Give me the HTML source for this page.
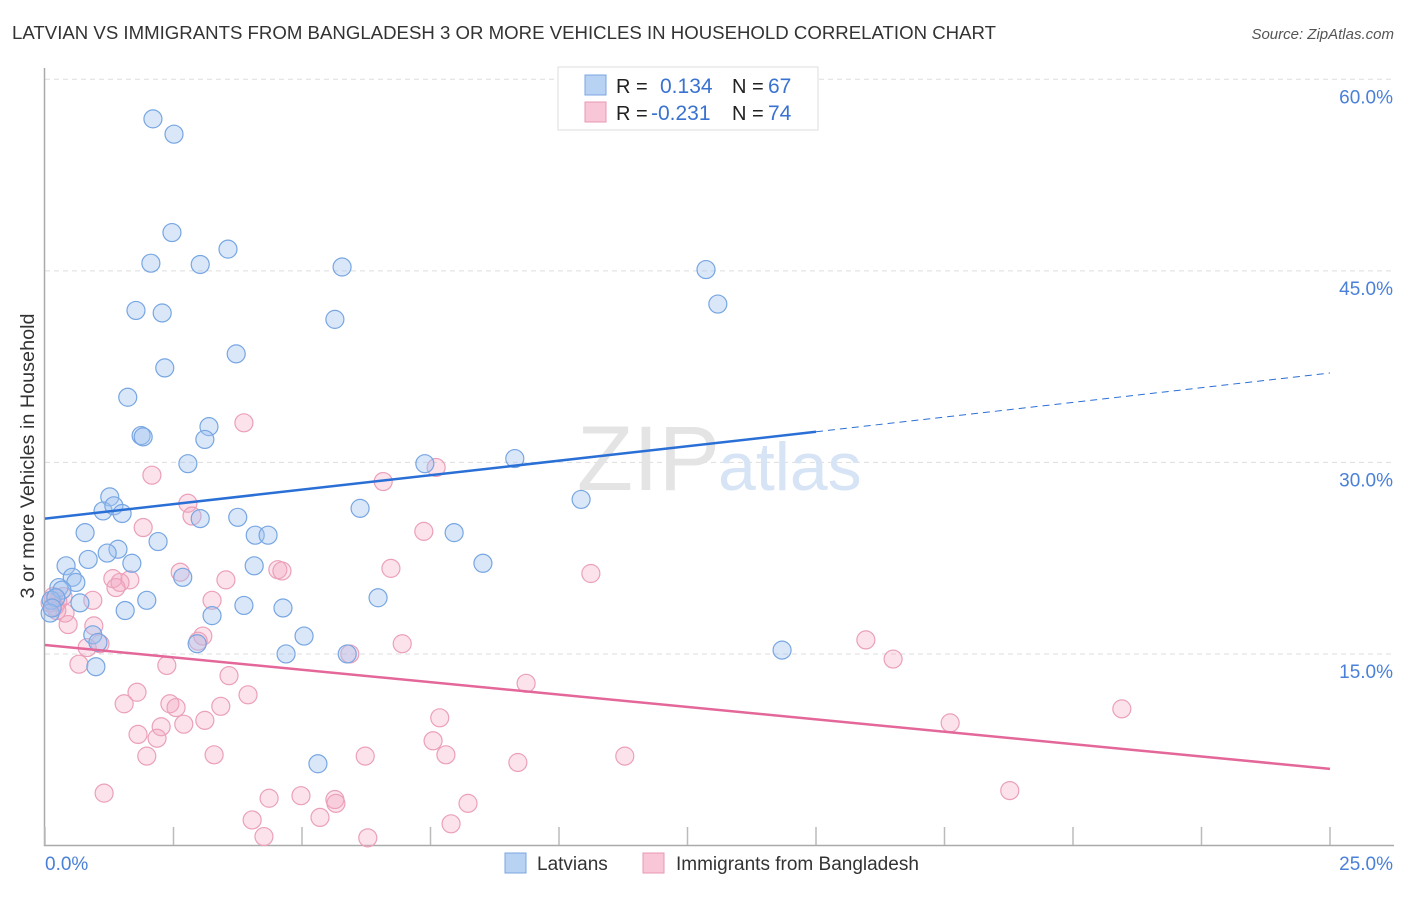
<!DOCTYPE html>
<html><head><meta charset="utf-8"><style>
body{margin:0;background:#fff;font-family:"Liberation Sans",sans-serif;}
svg text{font-family:"Liberation Sans",sans-serif;}
</style></head><body>
<svg id="c" width="1406" height="892">
<text x="12" y="39" font-size="18.5" fill="#333" textLength="984" lengthAdjust="spacingAndGlyphs">LATVIAN VS IMMIGRANTS FROM BANGLADESH 3 OR MORE VEHICLES IN HOUSEHOLD CORRELATION CHART</text>
<text x="1394" y="39" font-size="15" fill="#555" text-anchor="end" font-style="italic">Source: ZipAtlas.com</text>
<text transform="translate(34,456) rotate(-90)" font-size="19" fill="#333" text-anchor="middle" textLength="285" lengthAdjust="spacingAndGlyphs">3 or more Vehicles in Household</text>
<g id="grid"></g>
<text x="720" y="490" font-size="92" fill="#e4e4e4" text-anchor="end" font-family="Liberation Serif">ZIP</text>
<text x="718" y="490" font-size="68" fill="#d6e4f5">atlas</text>
<g id="pts"></g>
<g id="lines"></g>
<g>
<rect x="558" y="67" width="260" height="63" fill="#fff" stroke="#ddd"/>
<rect x="585" y="75" width="21" height="20" fill="#b8d2f4" stroke="#7aa6e0"/>
<rect x="585" y="102" width="21" height="20" fill="#f8c6d6" stroke="#ea97b3"/>
<text x="616" y="93" font-size="20" fill="#222">R =</text><text x="660" y="93" font-size="21" fill="#3a72d0">0.134</text>
<text x="732" y="93" font-size="20" fill="#222">N =</text><text x="768" y="93" font-size="21" fill="#3a72d0">67</text>
<text x="616" y="120" font-size="20" fill="#222">R =</text><text x="651" y="120" font-size="21" fill="#3a72d0">-0.231</text>
<text x="732" y="120" font-size="20" fill="#222">N =</text><text x="768" y="120" font-size="21" fill="#3a72d0">74</text>
</g>
<g>
<rect x="505" y="853" width="21" height="20" fill="#b8d2f4" stroke="#7aa6e0"/>
<text x="537" y="870" font-size="19" fill="#333">Latvians</text>
<rect x="643" y="853" width="21" height="20" fill="#f8c6d6" stroke="#ea97b3"/>
<text x="676" y="870" font-size="19" fill="#333">Immigrants from Bangladesh</text>
</g>
</svg>
<script>
const blueX=[2.10,2.51,2.47,3.56,2.06,3.02,5.78,12.86,13.09,1.77,2.28,5.64,3.72,2.33,1.61,3.19,1.87,1.91,3.11,2.78,7.39,9.14,1.26,10.43,1.13,1.34,1.50,6.13,3.02,3.75,0.78,4.09,4.34,7.96,2.20,1.42,1.21,0.84,1.69,0.41,8.52,4.07,0.53,2.68,0.60,0.27,0.33,0.12,0.21,1.98,6.48,3.87,0.68,4.63,1.56,3.25,5.04,0.93,1.03,2.96,4.69,5.88,14.34,0.99,5.31,0.10,0.14];
const blueY=[56.9,55.7,48.0,46.7,45.6,45.5,45.3,45.1,42.4,41.9,41.7,41.2,38.5,37.4,35.1,32.8,32.1,32.0,31.8,29.9,29.9,30.3,27.3,27.1,26.2,26.6,26.0,26.4,25.6,25.7,24.5,24.3,24.3,24.5,23.8,23.2,22.9,22.4,22.1,21.9,22.1,21.9,21.0,21.0,20.6,20.2,20.0,19.2,19.4,19.2,19.4,18.8,19.0,18.6,18.4,18.0,16.4,16.5,15.9,15.8,15.0,15.0,15.3,14.0,6.4,18.2,18.6];
const pinkX=[3.87,2.08,7.61,6.58,2.78,2.86,1.91,7.37,2.63,6.73,10.62,4.53,4.61,3.52,1.32,1.65,1.46,1.38,3.25,0.93,0.35,0.19,0.39,0.45,0.95,0.82,1.07,3.07,2.98,6.95,15.97,5.93,16.50,0.66,2.37,3.58,9.36,1.79,3.95,1.54,2.43,2.55,3.42,7.68,3.11,2.70,17.61,20.95,2.26,1.81,2.18,7.55,1.98,3.29,6.23,7.80,9.20,11.28,1.15,4.36,4.98,18.77,5.64,5.66,5.35,8.23,4.03,7.90,4.26,6.28,0.25,0.23,0.10,0.16];
const pinkY=[33.1,29.0,29.6,28.5,26.8,25.8,24.9,24.6,21.4,21.7,21.3,21.6,21.5,20.8,20.9,20.8,20.6,20.2,19.2,19.2,19.5,18.7,18.2,17.3,17.2,15.5,15.8,16.4,16.0,15.8,16.1,15.0,14.6,14.2,14.1,13.3,12.7,12.0,11.8,11.1,11.1,10.8,10.9,10.0,9.8,9.5,9.6,10.7,9.3,8.7,8.4,8.2,7.0,7.1,7.0,7.1,6.5,7.0,4.1,3.7,3.9,4.3,3.6,3.3,2.2,3.3,2.0,1.7,0.7,0.6,19.1,18.4,19.0,19.5];
const yTicks=[15,30,45,60];
const yTickLabels=["15.0%","30.0%","45.0%","60.0%"];
const xTicks=[0,2.5,5,7.5,10,12.5,15,17.5,20,22.5,25];
const blueTrend=[25.6,32.4,37.0];
const pinkTrend=[15.7,6.0];
const NS='http://www.w3.org/2000/svg';
const X=v=>45+v*51.4, Y=v=>845.5-v*12.77;
function mk(tag,a,parent){const e=document.createElementNS(NS,tag);for(const k in a)e.setAttribute(k,a[k]);parent.appendChild(e);return e;}
const grid=document.getElementById('grid');
yTicks.forEach((t,i)=>{
 const l=mk('line',{x1:45,x2:1394,y1:Y(t),y2:Y(t),stroke:'#ddd','stroke-dasharray':'5,4'},grid);
 
 
 const tx=mk('text',{x:1393,y:Y(t)+24,'font-size':19,fill:'#4a80d8','text-anchor':'end'},grid);tx.textContent=yTickLabels[i];
 
 
});
const ax=mk('path',{d:'M44.5 68 V845.5 H1394',stroke:'#aaa',fill:'none','stroke-width':1.5},grid);


xTicks.forEach(t=>{
 const l=mk('line',{x1:X(t),x2:X(t),y1:827,y2:845,stroke:'#bbb','stroke-width':1.5},grid);
 
 
});
const x0=mk('text',{x:45,y:870,'font-size':19,fill:'#4a80d8'},grid);x0.textContent='0.0%';


const x1=mk('text',{x:1393,y:870,'font-size':19,fill:'#4a80d8','text-anchor':'end'},grid);x1.textContent='25.0%';


const pts=document.getElementById('pts');
pinkX.forEach((v,i)=>{const c=mk('circle',{cx:X(v),cy:Y(pinkY[i]),r:9,fill:'rgba(244,168,194,0.33)',stroke:'#eba0ba','stroke-width':1.2},pts);
 
 });
blueX.forEach((v,i)=>{const c=mk('circle',{cx:X(v),cy:Y(blueY[i]),r:9,fill:'rgba(160,196,240,0.4)',stroke:'#77a6e2','stroke-width':1.2},pts);
 
 });
const lines=document.getElementById('lines');
const b1=mk('line',{x1:X(0),y1:Y(blueTrend[0]),x2:X(15),y2:Y(blueTrend[1]),stroke:'#2a6fd6','stroke-width':2.5},lines);


const b2=mk('line',{x1:X(15),y1:Y(blueTrend[1]),x2:X(25),y2:Y(blueTrend[2]),stroke:'#2a6fd6','stroke-width':1,'stroke-dasharray':'7,5'},lines);


const p1=mk('line',{x1:X(0),y1:Y(pinkTrend[0]),x2:X(25),y2:Y(pinkTrend[1]),stroke:'#e4679a','stroke-width':2.5},lines);


</script>
</body></html>
